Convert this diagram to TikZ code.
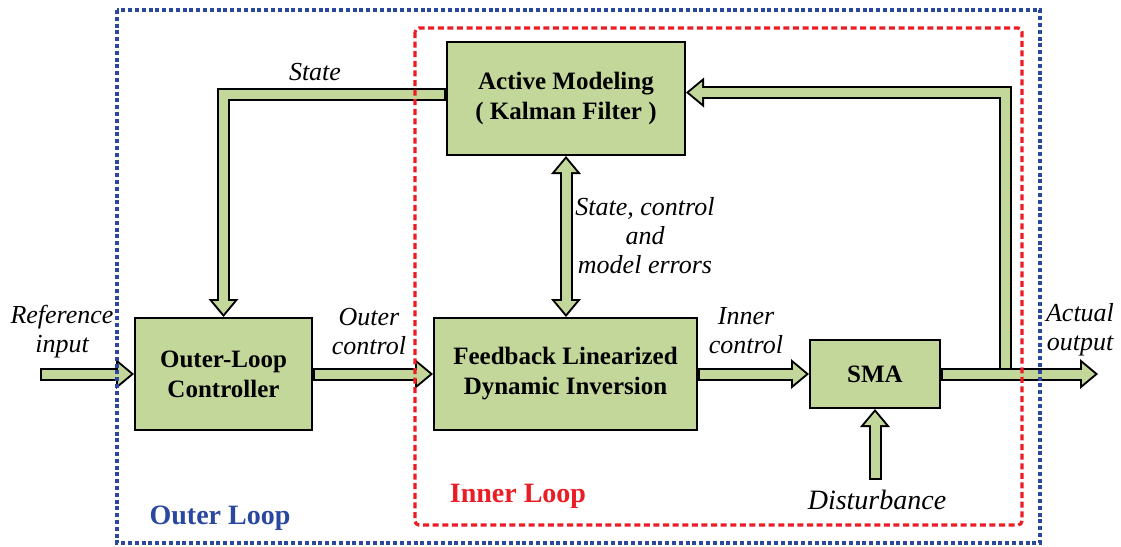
\documentclass[tikz,border=0pt]{standalone}
\usepackage{fontspec}
\setmainfont{Liberation Serif}
\usetikzlibrary{arrows.meta}

\definecolor{boxgreen}{RGB}{196,215,155}
\definecolor{loopblue}{RGB}{42,72,160}
\definecolor{loopred}{RGB}{235,28,36}

\tikzset{
  block/.style={draw=black, line width=1pt, fill=boxgreen, align=center,
    font=\fontsize{12.5}{15}\selectfont\bfseries, inner sep=0pt},
  lbl/.style={align=center, font=\fontsize{13}{14.5}\selectfont\itshape, inner sep=0pt},
  looplbl/.style={font=\fontsize{14}{16}\selectfont\bfseries, inner sep=0pt},
  fat/.style={line width=6.5pt, draw=black,
    -{Triangle[length=9pt,width=15pt,line width=0pt]}},
  fatin/.style={line width=4.5pt, draw=boxgreen, shorten <=1pt, shorten >=1.56pt,
    -{Triangle[length=6.44pt,width=10.73pt,line width=0pt]}},
  fatboth/.style={line width=6.5pt, draw=black,
    {Triangle[length=9pt,width=15pt,line width=0pt]}-{Triangle[length=9pt,width=15pt,line width=0pt]}},
  fatbothin/.style={line width=4.5pt, draw=boxgreen, shorten <=1.56pt, shorten >=1.56pt,
    {Triangle[length=6.44pt,width=10.73pt,line width=0pt]}-{Triangle[length=6.44pt,width=10.73pt,line width=0pt]}},
}
\newcommand{\fatarrow}[1]{\draw[fat] #1; \draw[fatin] #1;}
\newcommand{\fatdouble}[1]{\draw[fatboth] #1; \draw[fatbothin] #1;}

\begin{document}
\begin{tikzpicture}[x=0.5pt,y=-0.5pt]
  \useasboundingbox (0,0) rectangle (1121,547);

  % blocks
  \node[block, minimum width=119pt, minimum height=56.5pt] (am) at (566,98.5) {Active Modeling\\( Kalman Filter )};
  \node[block, minimum width=88.5pt, minimum height=56pt] (olc) at (223.5,374) {Outer-Loop\\Controller};
  \node[block, minimum width=131.5pt, minimum height=56pt] (fldi) at (565.5,374) {Feedback Linearized\\Dynamic Inversion};
  \node[block, minimum width=65pt, minimum height=34pt] (sma) at (875,374) {SMA};

  % free ends
  \coordinate (ref) at (40,374);
  \coordinate (out) at (1098,374);
  \coordinate (tap) at (1005,369.5);
  \coordinate (dist) at (875,480);

  % signal arrows
  \fatarrow{(ref) -- (olc.west)}
  \fatarrow{(olc.east) -- (fldi.west)}
  \fatarrow{(fldi.east) -- (sma.west)}
  \fatarrow{(sma.east) -- (out)}
  \fatarrow{(tap) |- ([yshift=3pt]am.east)}
  \fatarrow{([yshift=2pt]am.west) -| (olc.north)}
  \fatarrow{(dist) -- (sma.south)}
  \fatdouble{(am.south) -- (am.south |- fldi.north)}

  % loops
  \draw[loopblue, line width=1.6pt, dash pattern=on 2pt off 1.4pt] (117,10) rectangle (1040,543);
  \draw[loopred, line width=1.6pt, dash pattern=on 3pt off 1.8pt, rounded corners=2pt] (415,28) rectangle (1022,525);

  % labels
  \node[lbl] (lstate) at (315,72) {State};
  \node[lbl] (lerr) at (645,236) {State, control\\and\\model errors};
  \node[lbl] (lref) at (62,332) {Reference\\input};
  \node[lbl] (louter) at (369,332) {Outer\\control};
  \node[lbl] (linner) at (746,331) {Inner\\control};
  \node[lbl] (lout) at (1080,330) {Actual\\output};
  \node[lbl, font=\fontsize{14}{16}\selectfont\itshape] (ldist) at (877,500) {Disturbance};
  \node[looplbl, text=loopblue] (lol) at (220,518) {Outer Loop};
  \node[looplbl, text=loopred] (lil) at (518,496) {Inner Loop};
\end{tikzpicture}
\end{document}
